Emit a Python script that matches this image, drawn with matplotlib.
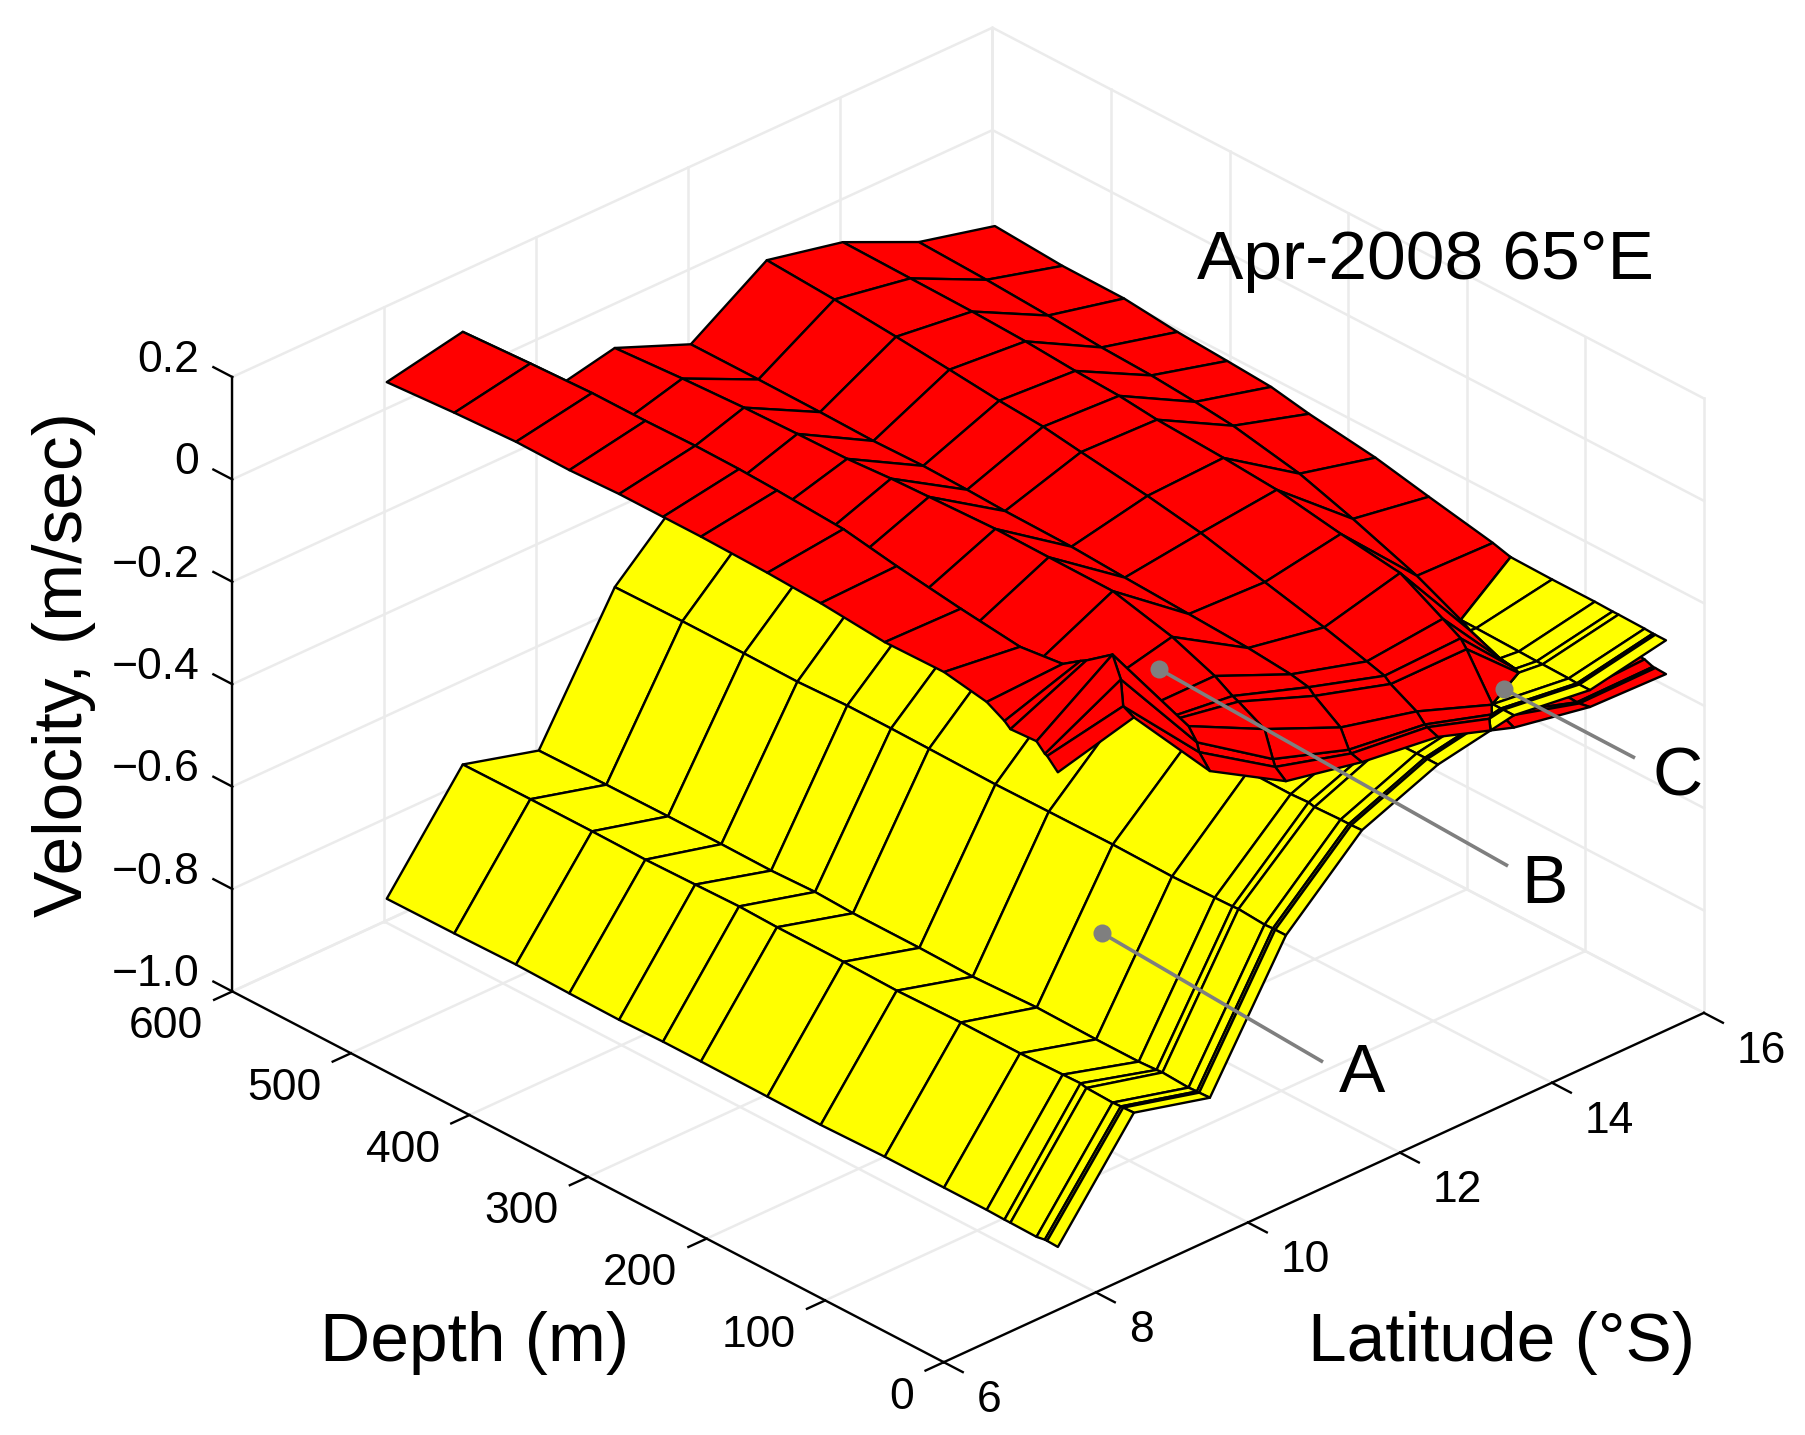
"""Two velocity surfaces over depth and latitude, Apr-2008 at 65E."""

import matplotlib

matplotlib.use("Agg")
import matplotlib.pyplot as plt
import numpy as np
from mpl_toolkits.mplot3d import proj3d
from mpl_toolkits.mplot3d.art3d import Poly3DCollection

plt.rcParams["font.family"] = ["Liberation Sans", "DejaVu Sans"]

LATS = [8, 9, 10, 11, 12, 13, 14, 15, 16]
DEPTHS = [598, 541, 489, 444, 402, 365, 333, 277, 232, 178, 128, 92, 77, 72, 50, 43, 41, 32]

# one row per depth, one column per latitude
RED = [
    [0.056, 0.086, -0.114, -0.082, -0.143, -0.047, -0.080, -0.148, -0.185],
    [0.065, 0.093, -0.114, -0.073, -0.143, -0.055, -0.082, -0.153, -0.194],
    [0.071, 0.098, -0.115, -0.067, -0.144, -0.065, -0.084, -0.160, -0.195],
    [0.070, 0.098, -0.113, -0.064, -0.146, -0.075, -0.088, -0.168, -0.206],
    [0.074, 0.100, -0.104, -0.062, -0.144, -0.085, -0.095, -0.172, -0.212],
    [0.074, 0.099, -0.111, -0.056, -0.146, -0.091, -0.099, -0.179, -0.218],
    [0.074, 0.096, -0.111, -0.053, -0.149, -0.102, -0.107, -0.187, -0.232],
    [0.071, 0.088, -0.111, -0.048, -0.151, -0.120, -0.114, -0.213, -0.250],
    [0.066, 0.070, -0.118, -0.049, -0.157, -0.138, -0.122, -0.247, -0.272],
    [0.055, 0.052, -0.122, -0.050, -0.163, -0.169, -0.143, -0.293, -0.297],
    [0.057, 0.038, -0.114, -0.079, -0.169, -0.197, -0.159, -0.349, -0.329],
    [0.042, 0.048, -0.112, -0.112, -0.177, -0.220, -0.205, -0.376, -0.354],
    [0.023, 0.072, -0.115, -0.133, -0.184, -0.230, -0.225, -0.376, -0.360],
    [0.013, 0.079, -0.111, -0.138, -0.195, -0.240, -0.240, -0.376, -0.365],
    [0.016, 0.117, -0.091, -0.165, -0.230, -0.267, -0.322, -0.376, -0.370],
    [0.000, 0.077, -0.114, -0.215, -0.265, -0.284, -0.330, -0.377, -0.376],
    [-0.002, 0.027, -0.131, -0.228, -0.270, -0.287, -0.335, -0.377, -0.376],
    [-0.023, 0.016, -0.157, -0.245, -0.276, -0.295, -0.345, -0.373, -0.377],
]
YELLOW = [
    [-0.953, -0.759, -0.800, -0.549, -0.413, -0.368, -0.327, -0.336, -0.305],
    [-0.952, -0.758, -0.798, -0.547, -0.411, -0.367, -0.326, -0.335, -0.304],
    [-0.950, -0.758, -0.797, -0.547, -0.412, -0.363, -0.325, -0.334, -0.303],
    [-0.952, -0.759, -0.797, -0.548, -0.411, -0.359, -0.324, -0.335, -0.304],
    [-0.953, -0.757, -0.798, -0.544, -0.411, -0.360, -0.324, -0.334, -0.303],
    [-0.951, -0.755, -0.795, -0.544, -0.411, -0.359, -0.325, -0.335, -0.304],
    [-0.951, -0.757, -0.798, -0.545, -0.410, -0.357, -0.323, -0.335, -0.304],
    [-0.952, -0.757, -0.798, -0.547, -0.410, -0.355, -0.322, -0.335, -0.304],
    [-0.953, -0.759, -0.800, -0.546, -0.411, -0.354, -0.323, -0.334, -0.305],
    [-0.950, -0.756, -0.795, -0.545, -0.411, -0.354, -0.323, -0.333, -0.306],
    [-0.950, -0.756, -0.797, -0.547, -0.410, -0.353, -0.324, -0.335, -0.308],
    [-0.950, -0.754, -0.797, -0.545, -0.411, -0.352, -0.323, -0.337, -0.308],
    [-0.951, -0.753, -0.795, -0.544, -0.409, -0.350, -0.322, -0.338, -0.309],
    [-0.951, -0.756, -0.794, -0.543, -0.412, -0.350, -0.322, -0.338, -0.309],
    [-0.952, -0.758, -0.797, -0.547, -0.410, -0.349, -0.321, -0.339, -0.310],
    [-0.949, -0.757, -0.796, -0.546, -0.410, -0.349, -0.321, -0.340, -0.311],
    [-0.949, -0.757, -0.796, -0.546, -0.410, -0.349, -0.321, -0.340, -0.311],
    [-0.950, -0.756, -0.795, -0.546, -0.409, -0.349, -0.321, -0.340, -0.311],
]

LAT_TICKS = [6, 8, 10, 12, 14, 16]
DEPTH_TICKS = [0, 100, 200, 300, 400, 500, 600]
VEL_TICKS = [-1.0, -0.8, -0.6, -0.4, -0.2, 0, 0.2]
VEL_LABELS = ["\u22121.0", "\u22120.8", "\u22120.6", "\u22120.4", "\u22120.2", "0", "0.2"]

GRID = "#ebebeb"
RED_FACE = "#ff0000"
YELLOW_FACE = "#ffff00"


def clip(poly, diff, sign):
    """Keep the part of a cell where sign * diff >= 0, cut along diff = 0."""
    out = []
    for k in range(4):
        a, b = poly[k], poly[(k + 1) % 4]
        da, db = sign * diff[k], sign * diff[(k + 1) % 4]
        if da >= 0:
            out.append(a)
        if da * db < 0:
            t = da / (da - db)
            out.append(tuple(p + t * (q - p) for p, q in zip(a, b)))
    return out


def cells():
    """Cells of both surfaces, cut where the surfaces cross so depth sorting works."""
    red = np.asarray(RED, dtype=float)
    yellow = np.asarray(YELLOW, dtype=float)
    verts, faces = [], []
    for i in range(len(DEPTHS) - 1):
        for j in range(len(LATS) - 1):
            idx = [(i, j), (i, j + 1), (i + 1, j + 1), (i + 1, j)]
            diff = [red[n] - yellow[n] for n in idx]
            for z, face in ((yellow, YELLOW_FACE), (red, RED_FACE)):
                poly = [(LATS[n[1]], DEPTHS[n[0]], z[n]) for n in idx]
                for sign in (1, -1):
                    part = clip(poly, diff, sign)
                    if len(part) >= 3:
                        verts.append(part)
                        faces.append(face)
    return verts, faces


def put_label(ax, x, y, z, text, **kwargs):
    px, py, _ = proj3d.proj_transform(x, y, z, ax.get_proj())
    ax.text2D(px, py, text, transform=ax.transData, **kwargs)


def draw_box(ax):
    line = {"color": GRID, "lw": 1.8, "zorder": 1}
    for lat in LAT_TICKS:
        ax.plot([lat, lat], [0, 600], [-1, -1], **line)
        ax.plot([lat, lat], [600, 600], [-1, 0.2], **line)
    for depth in DEPTH_TICKS:
        ax.plot([6, 16], [depth, depth], [-1, -1], **line)
        ax.plot([16, 16], [depth, depth], [-1, 0.2], **line)
    for vel in VEL_TICKS:
        ax.plot([6, 16], [600, 600], [vel, vel], **line)
        ax.plot([16, 16], [0, 600], [vel, vel], **line)

    axis = {"color": "black", "lw": 1.7, "zorder": 1.5}
    ax.plot([6, 16], [0, 0], [-1, -1], **axis)
    ax.plot([6, 6], [0, 600], [-1, -1], **axis)
    ax.plot([6, 6], [600, 600], [-1, 0.2], **axis)

    label = {"fontsize": 32, "va": "center", "color": "black", "zorder": 4}
    for lat in LAT_TICKS:
        ax.plot([lat, lat], [0, -16], [-1, -1], **axis)
        put_label(ax, lat, -28, -1.041, str(lat), ha="left", **label)
    for depth in DEPTH_TICKS:
        ax.plot([6, 5.76], [depth, depth], [-1, -1], **axis)
        put_label(ax, 5.61, depth, -1.042, str(depth), ha="right", **label)
    for vel, text in zip(VEL_TICKS, VEL_LABELS):
        ax.plot([6, 6], [600, 616], [vel, vel], **axis)
        put_label(ax, 6, 628, vel - 0.001, text, ha="right", **label)


def main():
    fig = plt.figure(figsize=(18.05, 14.35), dpi=100)
    ax = fig.add_axes([0.0856, -0.0513, 0.8778, 1.1042], projection="3d", proj_type="ortho")
    ax.computed_zorder = False
    ax.view_init(elev=29.3, azim=-133.2)
    ax.set_box_aspect((1042.8, 1039.3, 704.6))
    ax.set_xlim(6, 16, view_margin=0)
    ax.set_ylim(0, 600, view_margin=0)
    ax.set_zlim(-1, 0.2, view_margin=0)
    ax.set_axis_off()

    draw_box(ax)

    verts, faces = cells()
    surface = Poly3DCollection(
        verts,
        facecolors=faces,
        edgecolors="black",
        linewidths=1.7,
        zsort="average",
        zorder=2,
    )
    ax.add_collection3d(surface)

    # flat overlay in image pixels for the call-outs and the big labels
    over = fig.add_axes([0, 0, 1, 1], facecolor="none")
    over.set_xlim(0, 1805)
    over.set_ylim(1435, 0)
    over.axis("off")
    callouts = [
        ("A", (1102, 933), (1323, 1062), (1362, 1074)),
        ("B", (1159, 669), (1508, 866), (1544, 885)),
        ("C", (1504, 689), (1635, 758), (1678, 778)),
    ]
    for name, dot, end, pos in callouts:
        over.plot([dot[0], end[0]], [dot[1], end[1]], color="#7f7f7f", lw=2.6, solid_capstyle="butt")
        over.plot(dot[0], dot[1], "o", color="#7f7f7f", ms=13, mew=0)
        over.text(pos[0], pos[1], name, fontsize=50, ha="center", va="center")
    over.text(1425, 261, "Apr-2008 65\u00b0E", fontsize=50, ha="center", va="center")
    over.text(474, 1343, "Depth (m)", fontsize=50, ha="center", va="center")
    over.text(1501, 1343, "Latitude (\u00b0S)", fontsize=50, ha="center", va="center")
    over.text(64, 665, "Velocity, (m/sec)", fontsize=50, ha="center", va="center", rotation=90)

    fig.savefig("out.png", dpi=100)


if __name__ == "__main__":
    main()
